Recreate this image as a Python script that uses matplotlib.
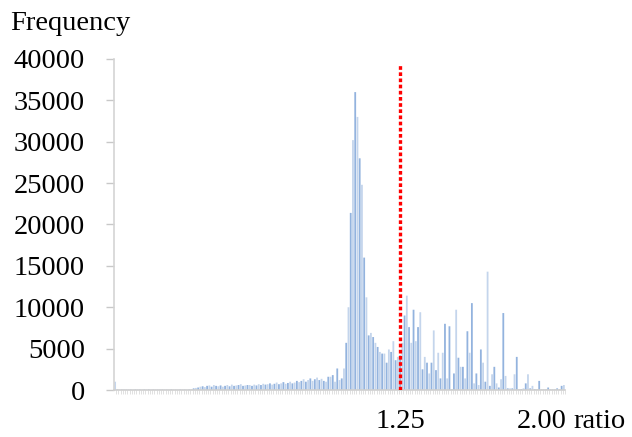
import matplotlib
matplotlib.use("Agg")
import matplotlib.pyplot as plt
import numpy as np

# ---- data ----
counts_head = [1000]
counts_flat = [60, 40, 50, 70, 40, 60, 50, 40, 60, 70,
               50, 40, 60, 50, 70, 40, 50, 60, 40, 70,
               50, 60, 40, 50, 70, 60, 40, 50, 60, 70,
               50, 40, 60, 80]
counts_rise = [200, 250, 300,
               400, 450, 350, 500, 550, 400, 600, 500, 450, 550,
               400, 500, 600, 450, 650, 500, 550, 600, 700, 500,
               550, 600,
               600, 500, 650, 550, 700, 600, 750, 650, 700, 800,
               650, 750, 900, 700, 800, 950, 750, 850, 1000, 800,
               900, 1100, 950,
               1100, 1300, 1000, 1200, 1400, 1100, 1300, 1500, 1200, 1350,
               1100, 1000, 1600,
               1600, 1800, 1000, 2600, 1200, 1400, 2600]
counts_peak = [5700, 10000, 21400, 30200, 36000, 33000, 28000, 24800, 16000, 11200,
               6600, 6900, 6400, 5700, 5200, 4600, 4400, 4400, 3300, 4900,
               4600, 5900, 3600, 4000, 4200, 5700, 9000, 11400, 7600, 5700,
               9700, 5900, 7600, 9400, 2500, 4000, 3300, 2000, 3300, 7200,
               2400, 4500, 1400, 4500, 8000, 1400, 7700, 100, 2000, 9700,
               3900, 2800, 2800, 1400, 7100, 4500, 10500, 800, 2000, 600,
               4900, 3300, 1000, 14300, 500, 1900, 2800, 800, 300, 1300,
               9300, 1700, 200, 200, 200, 1900, 4000, 100, 100, 200,
               800, 1900, 200, 500, 100, 100, 1100, 100, 50, 100,
               300, 100, 50, 100, 200, 100, 500, 600]
counts = counts_head + counts_flat + counts_rise + counts_peak

tick_labels = ["1.25", "2.00"]
tick_bins = [127, 190]      # bar index where each label sits
threshold_bin = 127         # red dotted line position (ratio 1.25)
y_ticks = [0, 5000, 10000, 15000, 20000, 25000, 30000, 35000, 40000]

# ---- plot ----
plt.rcParams['font.family'] = ['Liberation Serif', 'DejaVu Serif']
fig = plt.figure(figsize=(6.32, 4.37), dpi=100)
ax = fig.add_axes([114/632, 47/437, 451/632, 331/437])

n = len(counts)
x = np.arange(n)
colors = ['#c4d5ec' if i % 2 == 0 else '#93b3de' for i in range(n)]
bars = ax.bar(x, counts, width=0.8, color=colors, edgecolor='none', zorder=2)
for b in bars:
    b.set_snap(False)

ax.set_xlim(-0.5, n - 0.5)
ax.set_ylim(0, 40000)

ax.plot([threshold_bin, threshold_bin], [0, 39300], color='#ff0000', lw=2.4,
        linestyle=(0, (1.1, 0.75)), dash_capstyle='butt', zorder=3)

ax.set_yticks(y_ticks)
ax.set_yticklabels([str(v) for v in y_ticks], fontsize=20.5)
ax.tick_params(axis='y', length=6, width=1, color='#c8c8c8', pad=15)

ax.set_xticks(tick_bins)
ax.set_xticklabels(tick_labels, fontsize=20.5)
ax.tick_params(axis='x', which='major', length=0, pad=14)
ax.set_xticks(np.arange(n) + 0.5, minor=True)
ax.tick_params(axis='x', which='minor', length=3, width=0.6, color='#dcdcdc')

for s in ['top', 'right']:
    ax.spines[s].set_visible(False)
ax.spines['left'].set_color('#d4d4d4')
ax.spines['left'].set_linewidth(1.2)
ax.spines['bottom'].set_color('#cfcfcf')
ax.spines['bottom'].set_linewidth(1.2)

fig.text(10/632, 1 - 30/437, "Frequency", fontsize=20.5, ha='left', va='baseline')
fig.text(573/632, 1 - 428/437, "ratio", fontsize=20.5, ha='left', va='baseline')

fig.savefig("out.png", dpi=100)
